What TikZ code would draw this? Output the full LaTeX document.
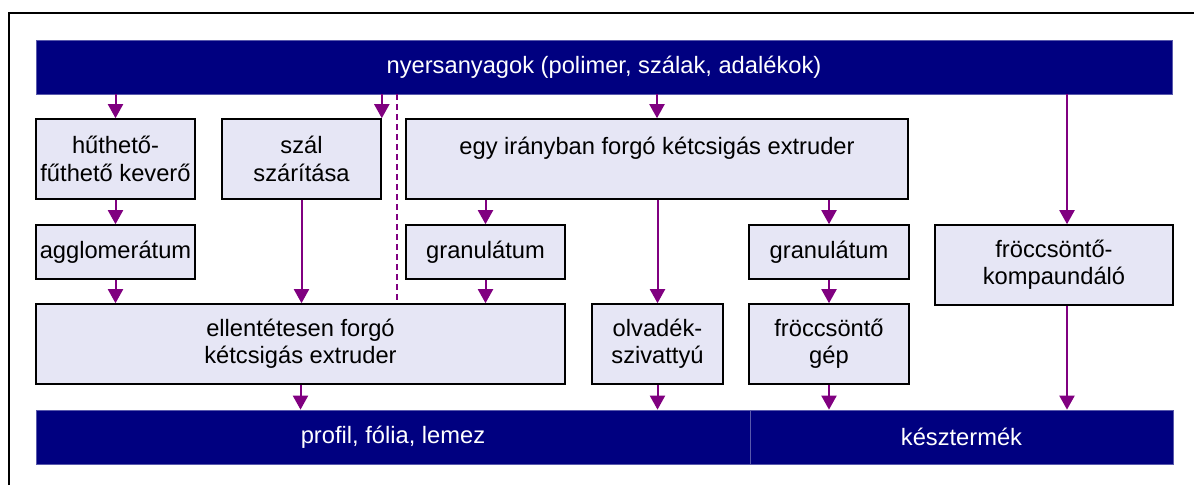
\documentclass[tikz,border=0pt]{standalone}
\usepackage{fontspec}
\setmainfont{Liberation Sans}
\usetikzlibrary{arrows.meta,positioning,calc}
\definecolor{mynavy}{HTML}{000080}
\definecolor{mypurple}{HTML}{800080}
\definecolor{mylavender}{HTML}{E6E6F5}
\newcommand{\mainfs}{\fontsize{23.7}{27.3}\selectfont}
\tikzset{
  box/.style={draw, line width=1.6pt, fill=mylavender, align=center, inner sep=0pt, font=\mainfs},
  bar/.style={draw=mynavy!65!white, line width=0.7pt, fill=mynavy, text=white, inner sep=0pt,
              font=\mainfs, minimum height=54pt},
  arr/.style={-{Triangle[length=14pt,width=15pt]}, line width=2pt, draw=mypurple},
  sep/.style={draw=mypurple, line width=1.5pt, dash pattern=on 6pt off 4pt},
}
\begin{document}
\begin{tikzpicture}[x=1pt, y=-1pt]
    \useasboundingbox (0,0) rectangle (1194,485);
    \draw[line width=1.5pt] (9,485) -- (9,13) -- (1194,13);
    \node[bar, minimum width=1136pt] (raw) at (604,67) {nyersanyagok (polimer, szálak, adalékok)};
    \node[box, minimum width=159pt, minimum height=80pt] (mixer) at (115.5,159) {hűthető-\\fűthető keverő};
    \node[box, minimum width=159pt, minimum height=80pt] (dry) at (301.5,159) {szál\\szárítása};
    \node[box, minimum width=502pt, minimum height=80pt] (corot) at (657,159) {egy irányban forgó kétcsigás extruder\\\mbox{}};
    \node[box, minimum width=159pt, minimum height=54pt] (aggl) at (115.5,252) {agglomerátum};
    \node[box, minimum width=159pt, minimum height=54pt] (granA) at (485.5,252) {granulátum};
    \node[box, minimum width=160pt, minimum height=54pt] (granB) at (829,252) {granulátum};
    \node[box, minimum width=238pt, minimum height=80pt] (comp) at (1054,265) {fröccsöntő-\\kompaundáló};
    \node[box, minimum width=529pt, minimum height=80pt] (counter) at (300.5,344) {ellentétesen forgó\\kétcsigás extruder};
    \node[box, minimum width=131pt, minimum height=80pt] (pump) at (657.5,344) {olvadék-\\szivattyú};
    \node[box, minimum width=160pt, minimum height=80pt] (inj) at (829,344) {fröccsöntő\\gép};
    \node[bar, minimum width=714pt] (prof) at (393,437) {profil, fólia, lemez};
    \node[bar, minimum width=423pt] (prod) at (961.5,437) {késztermék};
    \coordinate (compx) at ([xshift=13pt]comp.north);
    \coordinate (cut) at (397,0);
    \draw[sep] (raw.south -| cut) -- (counter.north -| cut);
    \draw[arr] (raw.south -| mixer.north) -- (mixer.north);
    \draw[arr] (raw.south -| dry.north east) -- (dry.north east);
    \draw[arr] (raw.south -| corot.north) -- (corot.north);
    \draw[arr] (raw.south -| compx) -- (compx);
    \draw[arr] (mixer) -- (aggl); \draw[arr] (aggl) -- (aggl.south |- counter.north);
    \draw[arr] (dry) -- (dry.south |- counter.north);
    \draw[arr] (corot.south -| granA) -- (granA); \draw[arr] (granA) -- (granA.south |- counter.north);
    \draw[arr] (corot.south -| pump) -- (pump);
    \draw[arr] (corot.south -| granB) -- (granB); \draw[arr] (granB) -- (inj);
    \draw[arr] (inj) -- (inj.south |- prod.north);
    \draw[arr] (compx |- comp.south) -- (compx |- prod.north);
    \draw[arr] (counter) -- (counter.south |- prof.north);
    \draw[arr] (pump) -- (pump.south |- prof.north);
  \end{tikzpicture}
\end{document}
